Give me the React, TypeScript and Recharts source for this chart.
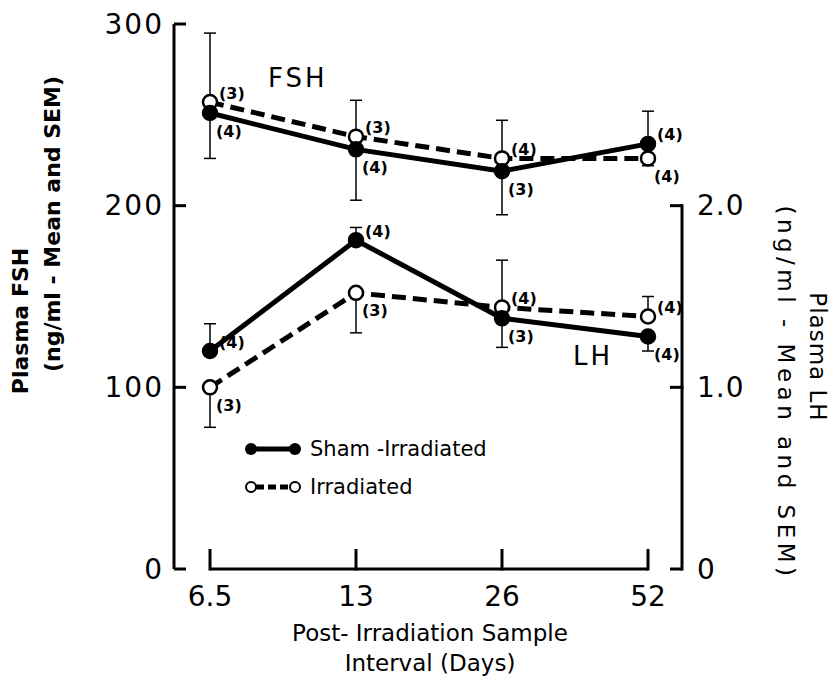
import React from 'react';
import {
  LineChart, Line, XAxis, YAxis, ErrorBar, Legend,
} from 'recharts';

// sampling interval after irradiation (days)
const days = ['6.5', '13', '26', '52'];

// plasma FSH, ng/ml (mean, SEM, n)
const fshSham = [251, 231, 219, 234];
const fshShamSem = [25, 28, 24, 18];
const fshShamN = [4, 4, 3, 4];
const fshIrr = [257, 238, 226, 226];
const fshIrrSem = [38, 20, 21, 4];
const fshIrrN = [3, 3, 4, 4];

// plasma LH, ng/ml (mean, SEM, n)
const lhSham = [1.2, 1.81, 1.38, 1.28];
const lhShamSem = [0.15, 0.07, 0.16, 0.08];
const lhShamN = [4, 4, 3, 4];
const lhIrr = [1.0, 1.52, 1.44, 1.39];
const lhIrrSem = [0.22, 0.22, 0.26, 0.11];
const lhIrrN = [3, 3, 4, 4];

const fshTicks = [0, 100, 200, 300];
const lhTicks = [0, 1, 2];
const lhMax = 3; // LH axis shares the FSH scale: 2.0 sits level with 200

const FONT = '"DejaVu Sans", sans-serif';

// layout
const W = 835;
const H = 678;
const TOP = 24;
const X_AXIS_H = 109;
const LEFT_W = 174;
const RIGHT_W = 153;
const PAD_L = 36;
const PAD_R = 34;
const PLOT_H = H - TOP - X_AXIS_H;
const PLOT_W = W - LEFT_W - RIGHT_W;
const DAY_STEP = (PLOT_W - PAD_L - PAD_R) / (days.length - 1);

// SEM is only drawn on the side facing away from the other group
const oneSided = (own: number[], other: number[], sem: number[]) =>
  own.map((v, i) => (v >= other[i] ? [0, sem[i]] : [sem[i], 0]));

const data = days.map((day, i) => ({
  day,
  fshSham: fshSham[i],
  fshShamErr: oneSided(fshSham, fshIrr, fshShamSem)[i],
  fshShamN: fshShamN[i],
  fshShamUp: fshSham[i] >= fshIrr[i],
  fshIrr: fshIrr[i],
  fshIrrErr: oneSided(fshIrr, fshSham, fshIrrSem)[i],
  fshIrrN: fshIrrN[i],
  fshIrrUp: fshIrr[i] > fshSham[i],
  lhSham: lhSham[i],
  lhShamErr: oneSided(lhSham, lhIrr, lhShamSem)[i],
  lhShamN: lhShamN[i],
  lhShamUp: lhSham[i] >= lhIrr[i],
  lhIrr: lhIrr[i],
  lhIrrErr: oneSided(lhIrr, lhSham, lhIrrSem)[i],
  lhIrrN: lhIrrN[i],
  lhIrrUp: lhIrr[i] > lhSham[i],
}));

// point marker plus the "(n)" tag beside it
const marker = (filled: boolean) => (p: any) => {
  const { cx, cy, payload, dataKey, index } = p;
  const up = payload[`${dataKey}Up`];
  const n = payload[`${dataKey}N`];
  return (
    <g key={`${dataKey}-${index}`}>
      <circle cx={cx} cy={cy} r={7} fill={filled ? '#000' : '#fff'} stroke="#000" strokeWidth={2.5} />
      <text
        x={cx + (up ? 9 : 6)}
        y={cy + (up ? -9 : 18)}
        dominantBaseline="central"
        fontSize={16}
        fontWeight="bold"
        fontFamily={FONT}
      >
        ({n})
      </text>
    </g>
  );
};

const LeftTick = (p: any) => (
  <g>
    <line x1={p.x} x2={p.x + 12} y1={p.y} y2={p.y} stroke="#000" strokeWidth={3} />
    <text x={p.x - 10} y={p.y} textAnchor="end" dominantBaseline="central" fontSize={28} fontFamily={FONT} letterSpacing={2}>
      {p.payload.value}
    </text>
  </g>
);

// right axis: the spine only runs from 0 up to 2.0, so each tick draws its own piece of it
const RightTick = (p: any) => {
  const v = p.payload.value;
  const seg = v > 0 ? (PLOT_H / lhMax) : 0;
  return (
    <g>
      <line x1={p.x - 12} x2={p.x} y1={p.y} y2={p.y} stroke="#000" strokeWidth={3} />
      {seg > 0 && <line x1={p.x} x2={p.x} y1={p.y - 1.5} y2={p.y + seg + 1.5} stroke="#000" strokeWidth={3} />}
      <text x={p.x + 15} y={p.y} textAnchor="start" dominantBaseline="central" fontSize={28} fontFamily={FONT} letterSpacing={1}>
        {v === 0 ? '0' : v.toFixed(1)}
      </text>
    </g>
  );
};

// bottom axis: upward ticks joined by a baseline that stops at the first and last day
const DayTick = (p: any) => {
  const last = p.index === days.length - 1;
  return (
    <g>
      <line x1={p.x} x2={p.x} y1={p.y - 20} y2={p.y + 1.5} stroke="#000" strokeWidth={3} />
      {!last && <line x1={p.x} x2={p.x + DAY_STEP} y1={p.y} y2={p.y} stroke="#000" strokeWidth={3} />}
      <text x={p.x} y={p.y + 27} textAnchor="middle" dominantBaseline="central" fontSize={28} fontFamily={FONT}>
        {p.payload.value}
      </text>
    </g>
  );
};

const XTitle = () => (
  <g fontFamily={FONT} fontSize={23}>
    <text x={430} y={633} textAnchor="middle" dominantBaseline="central">Post- Irradiation Sample</text>
    <text x={430} y={663} textAnchor="middle" dominantBaseline="central">Interval (Days)</text>
  </g>
);

const LeftTitle = () => (
  <g fontFamily={FONT} fontSize={22} fontWeight="bold">
    <text x={20} y={321} transform="rotate(-90 20 321)" textAnchor="middle" dominantBaseline="central">Plasma FSH</text>
    <text x={52} y={224} transform="rotate(-90 52 224)" textAnchor="middle" dominantBaseline="central">(ng/ml - Mean and SEM)</text>
  </g>
);

const RightTitle = () => (
  <g fontFamily={FONT} fontSize={23}>
    <text x={818} y={357} transform="rotate(90 818 357)" textAnchor="middle" dominantBaseline="central" letterSpacing={1}>Plasma LH</text>
    <text x={786} y={393} transform="rotate(90 786 393)" textAnchor="middle" dominantBaseline="central" letterSpacing={4.5}>(ng/ml - Mean and SEM)</text>
  </g>
);

const LegendBox = () => (
  <div style={{ fontFamily: FONT, fontSize: 21, lineHeight: '38px' }}>
    <div style={{ display: 'flex', alignItems: 'center' }}>
      <svg width={60} height={16}>
        <line x1={7} x2={51} y1={8} y2={8} stroke="#000" strokeWidth={5} />
        <circle cx={7} cy={8} r={6} fill="#000" />
        <circle cx={51} cy={8} r={6} fill="#000" />
      </svg>
      <span style={{ marginLeft: 6 }}>Sham -Irradiated</span>
    </div>
    <div style={{ display: 'flex', alignItems: 'center' }}>
      <svg width={60} height={16}>
        <line x1={12} x2={46} y1={8} y2={8} stroke="#000" strokeWidth={5} strokeDasharray="8 4" />
        <circle cx={7} cy={8} r={5} fill="#fff" stroke="#000" strokeWidth={2} />
        <circle cx={51} cy={8} r={5} fill="#fff" stroke="#000" strokeWidth={2} />
      </svg>
      <span style={{ marginLeft: 6 }}>Irradiated</span>
    </div>
  </div>
);

const errProps = { stroke: '#000', strokeWidth: 1.5, width: 6, direction: 'y' as const };

export default function App() {
  return (
    <div style={{ position: 'absolute', left: 0, top: 0, width: W, height: H, background: '#fff' }}>
      <LineChart width={W} height={H} data={data} margin={{ top: TOP, right: 0, bottom: 0, left: 0 }}>
        <XAxis
          dataKey="day"
          height={X_AXIS_H}
          padding={{ left: PAD_L, right: PAD_R }}
          axisLine={false}
          tickLine={false}
          tickSize={0}
          tickMargin={0}
          interval={0}
          tick={DayTick}
          label={{ content: XTitle }}
        />
        <YAxis
          yAxisId="left"
          domain={[0, 300]}
          ticks={fshTicks}
          width={LEFT_W}
          axisLine={{ stroke: '#000', strokeWidth: 3 }}
          tickLine={false}
          tickSize={0}
          tickMargin={0}
          tick={LeftTick}
          label={{ content: LeftTitle }}
        />
        <YAxis
          yAxisId="right"
          orientation="right"
          domain={[0, lhMax]}
          ticks={lhTicks}
          width={RIGHT_W}
          axisLine={false}
          tickLine={false}
          tickSize={0}
          tickMargin={0}
          tick={RightTick}
          label={{ content: RightTitle }}
        />
        <Legend
          layout="vertical"
          align="center"
          verticalAlign="middle"
          content={LegendBox}
          wrapperStyle={{ position: 'absolute', left: 244, top: 430, width: 280 }}
        />

        <Line yAxisId="left" dataKey="fshIrr" stroke="#000" strokeWidth={5} strokeDasharray="14 7"
          dot={marker(false)} isAnimationActive={false}>
          <ErrorBar dataKey="fshIrrErr" {...errProps} />
        </Line>
        <Line yAxisId="left" dataKey="fshSham" stroke="#000" strokeWidth={5}
          dot={marker(true)} isAnimationActive={false}>
          <ErrorBar dataKey="fshShamErr" {...errProps} />
        </Line>
        <Line yAxisId="right" dataKey="lhIrr" stroke="#000" strokeWidth={5} strokeDasharray="14 7"
          dot={marker(false)} isAnimationActive={false}>
          <ErrorBar dataKey="lhIrrErr" {...errProps} />
        </Line>
        <Line yAxisId="right" dataKey="lhSham" stroke="#000" strokeWidth={5}
          dot={marker(true)} isAnimationActive={false}>
          <ErrorBar dataKey="lhShamErr" {...errProps} />
        </Line>
      </LineChart>
      <div style={{ position: 'absolute', left: 268, top: 63, fontFamily: FONT, fontSize: 26, letterSpacing: 3 }}>FSH</div>
      <div style={{ position: 'absolute', left: 573, top: 341, fontFamily: FONT, fontSize: 26, letterSpacing: 3 }}>LH</div>
    </div>
  );
}
